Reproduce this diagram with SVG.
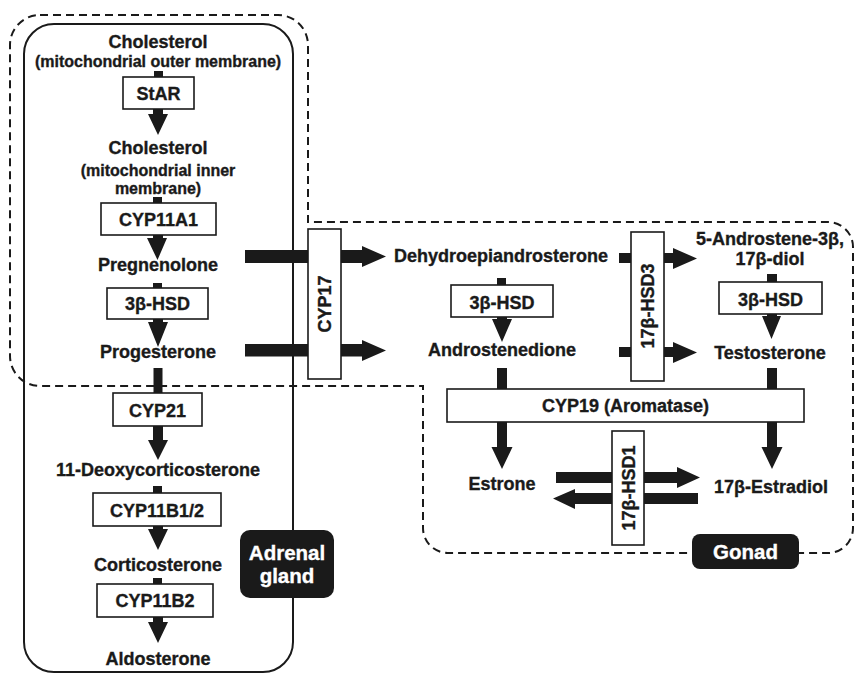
<svg xmlns="http://www.w3.org/2000/svg" width="856" height="675" viewBox="0 0 856 675">
<style>
text{font-family:"Liberation Sans",Arial,Helvetica,sans-serif;font-weight:bold;fill:#1a1a1a;stroke:#1a1a1a;stroke-width:0.35;text-anchor:middle}
.t{font-size:18px}
.s{font-size:16px}
.lab{font-size:20.5px;fill:#fff;stroke:#fff}
.box{fill:#fff;stroke:#1a1a1a;stroke-width:1.6}
.ar{fill:#1a1a1a;stroke:none}
.dash{fill:none;stroke:#1a1a1a;stroke-width:2;stroke-dasharray:8 5}
.solid{fill:none;stroke:#1a1a1a;stroke-width:2}
</style>
<g id="regions">
<path class="dash" d="M40,15 H278 A30,30 0 0 1 308,45 V222 H828 A25,25 0 0 1 853,247 V528 A25,25 0 0 1 828,553 H448 A25,25 0 0 1 423,528 V386 H40 A30,30 0 0 1 10,356 V45 A30,30 0 0 1 40,15 Z"/>
<rect class="solid" x="24" y="24" width="269" height="648" rx="30" ry="30"/>
</g>
<g id="connectors" class="ar">
<rect x="154" y="71" width="9" height="7"/>
<polygon points="153,109 163,109 163,114 168,114 158,135 148,114 153,114"/>
<rect x="153" y="197" width="9" height="7"/>
<polygon points="153,235 163,235 163,238 167,238 157.5,260 147,238 153,238"/>
<rect x="153" y="283" width="9" height="6"/>
<polygon points="153,319 163,319 163,322 168,322 158,347 148,322 153,322"/>
<rect x="153.5" y="368" width="9" height="26"/>
<polygon points="153,426 163,426 163,440 168,440 158,460 148,440 153,440"/>
<rect x="153" y="486" width="9" height="8"/>
<polygon points="153,526 163,526 163,529 168,529 158,550 148,529 153,529"/>
<rect x="153" y="578" width="9" height="7"/>
<polygon points="153,617 163,617 163,622 168,622 158,643 148,622 153,622"/>
<rect x="245" y="250" width="64" height="13"/>
<polygon points="340,250 362,250 362,246 386,256.5 362,267 362,263 340,263"/>
<rect x="245" y="344" width="64" height="12.5"/>
<polygon points="340,344 362,344 362,340 386,350.5 362,361 362,356.5 340,356.5"/>
<rect x="497" y="278" width="9" height="8"/>
<polygon points="497,317 507,317 507,319 512,319 502,342 492,319 497,319"/>
<rect x="497" y="368" width="10" height="22"/>
<polygon points="497,421 507,421 507,447 512.5,447 502,469 491.5,447 497,447"/>
<rect x="619" y="253" width="13" height="10"/>
<polygon points="663,253 673,253 673,248 697,258.5 673,269 673,263 663,263"/>
<rect x="619" y="347" width="13" height="10"/>
<polygon points="663,347 673,347 673,342 697,352.5 673,363 673,357 663,357"/>
<rect x="767" y="274" width="10" height="9"/>
<polygon points="767,314 777,314 777,316 781,316 771.5,339 762,316 767,316"/>
<rect x="767" y="368" width="10" height="22"/>
<polygon points="767,421 777,421 777,447 782.5,447 772,469 761.5,447 767,447"/>
<rect x="556" y="472" width="57" height="11"/>
<polygon points="643,472 677,472 677,467 700,477.5 677,488 677,483 643,483"/>
<rect x="643" y="493" width="55" height="11"/>
<polygon points="613,493 575,493 575,489 553,498.5 575,509 575,504 613,504"/>
</g>
<g id="n-chol-outer">
<text class="t" x="158" y="48">Cholesterol</text>
<text class="s" x="158" y="67">(mitochondrial outer membrane)</text>
</g>
<g id="n-star"><rect class="box" x="123" y="77" width="71" height="32"/><text class="t" x="158.5" y="100">StAR</text></g>
<g id="n-chol-inner">
<text class="t" x="158" y="154">Cholesterol</text>
<text class="s" x="158" y="176">(mitochondrial inner</text>
<text class="s" x="158" y="194">membrane)</text>
</g>
<g id="n-cyp11a1"><rect class="box" x="101" y="203" width="115" height="32"/><text class="t" x="158.5" y="226">CYP11A1</text></g>
<g id="n-preg"><text class="t" x="158" y="271">Pregnenolone</text></g>
<g id="n-3bhsd-l"><rect class="box" x="107" y="288" width="101" height="31"/><text class="t" x="157.5" y="310">3β-HSD</text></g>
<g id="n-prog"><text class="t" x="158" y="358">Progesterone</text></g>
<g id="n-cyp21"><rect class="box" x="113" y="393" width="89" height="33"/><text class="t" x="157.5" y="417">CYP21</text></g>
<g id="n-doc"><text class="t" x="158" y="476">11-Deoxycorticosterone</text></g>
<g id="n-cyp11b12"><rect class="box" x="93" y="493" width="128" height="33"/><text class="t" x="157" y="517">CYP11B1/2</text></g>
<g id="n-cort"><text class="t" x="158" y="571">Corticosterone</text></g>
<g id="n-cyp11b2"><rect class="box" x="97" y="584" width="116" height="33"/><text class="t" x="155" y="607">CYP11B2</text></g>
<g id="n-aldo"><text class="t" x="158" y="665">Aldosterone</text></g>
<g id="n-cyp17"><rect class="box" x="308" y="229" width="33" height="150"/><text class="t" transform="translate(331,304) rotate(-90)" x="0" y="0">CYP17</text></g>
<g id="n-dhea"><text class="t" x="501" y="262">Dehydroepiandrosterone</text></g>
<g id="n-3bhsd-m"><rect class="box" x="451" y="285" width="102" height="32"/><text class="t" x="502" y="309">3β-HSD</text></g>
<g id="n-andro"><text class="t" x="502" y="356">Androstenedione</text></g>
<g id="n-17bhsd3"><rect class="box" x="631" y="232" width="33" height="149"/><text class="t" transform="translate(654,306) rotate(-90)" x="0" y="0">17β-HSD3</text></g>
<g id="n-diol">
<text class="t" x="770" y="245">5-Androstene-3β,</text>
<text class="t" x="770" y="265">17β-diol</text>
</g>
<g id="n-3bhsd-r"><rect class="box" x="719" y="282" width="103" height="32"/><text class="t" x="770.5" y="306">3β-HSD</text></g>
<g id="n-testo"><text class="t" x="770" y="359">Testosterone</text></g>
<g id="n-cyp19"><rect class="box" x="447" y="389" width="357" height="33"/><text class="t" x="625.5" y="412">CYP19 (Aromatase)</text></g>
<g id="n-estrone"><text class="t" x="502" y="490">Estrone</text></g>
<g id="n-17bhsd1"><rect class="box" x="612" y="431" width="32" height="114"/><text class="t" transform="translate(634.5,488) rotate(-90)" x="0" y="0">17β-HSD1</text></g>
<g id="n-estradiol"><text class="t" x="771" y="493">17β-Estradiol</text></g>
<g id="l-adrenal">
<rect x="240" y="530" width="94" height="68" rx="10" ry="10" fill="#1a1a1a"/>
<text class="lab" x="287" y="560">Adrenal</text>
<text class="lab" x="287" y="583">gland</text>
</g>
<g id="l-gonad">
<rect x="692" y="534" width="107" height="35" rx="8" ry="8" fill="#1a1a1a"/>
<text class="lab" x="745.5" y="559">Gonad</text>
</g>
</svg>
